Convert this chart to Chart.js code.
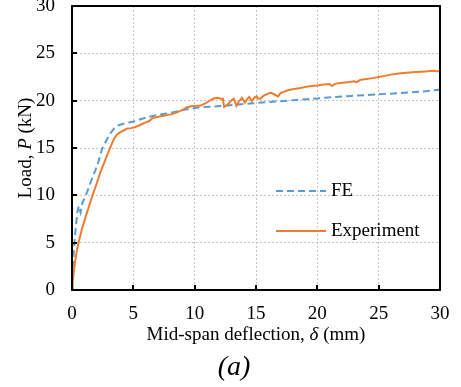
<!DOCTYPE html>
<html>
<head>
<meta charset="utf-8">
<script src="https://cdn.jsdelivr.net/npm/chart.js@4.4.1/dist/chart.umd.min.js"></script>
<style>
  html, body { margin: 0; padding: 0; background: #fff; }
  #wrap { width: 461px; height: 387px; }
</style>
</head>
<body>
<div id="wrap"><canvas id="chart" width="461" height="387"></canvas></div>
<script>
// FE model curve (mid-span deflection in mm, load in kN)
const feDeflection = [0, 0.05, 0.15, 0.3, 0.45, 0.55, 0.7, 0.85, 1.1, 1.5, 1.8, 2.1, 2.45, 2.8, 3.1, 3.45, 3.8, 4.3, 5.0, 6.0, 7.0, 8.0, 9.0, 10.4, 12.3, 14.5, 16.5, 18.6, 20.6, 22.7, 24.7, 26.7, 28.4, 30];
const feLoad = [0, 2.0, 4.2, 6.5, 8.3, 8.9, 8.2, 9.2, 9.9, 11.3, 12.3, 13.3, 14.9, 15.8, 16.5, 17.1, 17.4, 17.6, 17.8, 18.2, 18.5, 18.7, 19.0, 19.3, 19.45, 19.7, 19.9, 20.1, 20.3, 20.5, 20.65, 20.8, 20.95, 21.15];

// Experiment curve
const expDeflection = [0, 0.05, 0.12, 0.25, 0.4, 0.55, 0.8, 1.1, 1.4, 1.7, 2.0, 2.3, 2.7, 3.1, 3.4, 3.65, 3.9, 4.2, 4.5, 4.8, 5.1, 5.5, 6.0, 6.3, 6.6, 6.9, 7.2, 7.5, 7.8, 8.1, 8.5, 8.9, 9.3, 9.7, 10.1, 10.5, 10.9, 11.3, 11.6, 11.9, 12.1, 12.3, 12.4, 12.6, 12.8, 13.1, 13.2, 13.4, 13.6, 13.85, 14.1, 14.3, 14.45, 14.65, 14.85, 15.05, 15.2, 15.35, 15.6, 15.9, 16.2, 16.5, 16.8, 17.0, 17.3, 17.6, 18.0, 18.5, 19.0, 19.5, 20.0, 20.5, 21.0, 21.2, 21.4, 21.7, 22.1, 22.6, 23.0, 23.2, 23.5, 24.0, 24.5, 25.0, 25.5, 26.0, 26.5, 27.0, 27.5, 28.0, 28.5, 29.0, 29.4, 29.7, 30];
const expLoad = [0, 0.8, 1.6, 3.0, 4.2, 5.1, 6.4, 7.7, 8.9, 10.1, 11.2, 12.4, 13.7, 15.0, 15.9, 16.4, 16.65, 16.85, 17.05, 17.1, 17.2, 17.4, 17.7, 17.85, 18.2, 18.25, 18.35, 18.4, 18.5, 18.55, 18.75, 18.95, 19.25, 19.4, 19.45, 19.5, 19.75, 20.05, 20.25, 20.3, 20.2, 20.2, 19.35, 19.5, 19.75, 20.15, 20.2, 19.45, 19.9, 20.3, 19.8, 20.2, 20.4, 19.95, 20.3, 20.45, 20.2, 20.2, 20.5, 20.7, 20.85, 20.65, 20.45, 20.8, 20.95, 21.1, 21.2, 21.3, 21.45, 21.55, 21.6, 21.7, 21.75, 21.55, 21.75, 21.85, 21.9, 21.97, 22.05, 21.95, 22.2, 22.3, 22.38, 22.5, 22.62, 22.75, 22.85, 22.93, 22.98, 23.03, 23.06, 23.1, 23.15, 23.1, 23.12];

const seriesNames = ["FE", "Experiment"];
const axisMin = 0;
const axisMax = 30;
const tickStep = 5;

const serif = "'Liberation Serif', 'Times New Roman', serif";
const blue = "#5B9BD5";
const orange = "#ED7D31";

function toPoints(xs, ys) {
  return xs.map((x, i) => ({ x: x, y: ys[i] }));
}

// Draws several pieces of text in a row, each with its own font
function drawRuns(ctx, runs, x, y) {
  let total = 0;
  runs.forEach((r) => {
    ctx.font = r.font;
    total += ctx.measureText(r.text).width;
  });
  let pos = x - total / 2;
  ctx.textAlign = "left";
  runs.forEach((r) => {
    ctx.font = r.font;
    ctx.fillText(r.text, pos, y);
    pos += ctx.measureText(r.text).width;
  });
}

// Box, inside ticks, titles and the legend
const decorations = {
  id: "decorations",
  afterDatasetsDraw(chart) {
    const ctx = chart.ctx;
    const area = chart.chartArea;
    const xs = chart.scales.x;
    const ys = chart.scales.y;

    ctx.save();
    // inside tick marks
    ctx.strokeStyle = "#000";
    ctx.lineWidth = 2;
    for (let v = axisMin + tickStep; v < axisMax; v += tickStep) {
      const px = Math.round(xs.getPixelForValue(v));
      ctx.beginPath();
      ctx.moveTo(px, area.bottom);
      ctx.lineTo(px, area.bottom - 5);
      ctx.stroke();
      const py = Math.round(ys.getPixelForValue(v));
      ctx.beginPath();
      ctx.moveTo(area.left, py);
      ctx.lineTo(area.left + 5, py);
      ctx.stroke();
    }
    // plot box
    ctx.strokeRect(area.left, area.top, area.right - area.left, area.bottom - area.top);

    // legend
    const legendX1 = 276;
    const legendX2 = 326;
    const rows = [
      { name: seriesNames[0], color: blue, dash: [7, 4], y: 191 },
      { name: seriesNames[1], color: orange, dash: [], y: 231 },
    ];
    rows.forEach((r) => {
      ctx.strokeStyle = r.color;
      ctx.lineWidth = 2;
      ctx.setLineDash(r.dash);
      ctx.beginPath();
      ctx.moveTo(legendX1, r.y);
      ctx.lineTo(legendX2, r.y);
      ctx.stroke();
      ctx.setLineDash([]);
      ctx.fillStyle = "#000";
      ctx.font = "19px " + serif;
      ctx.textAlign = "left";
      ctx.textBaseline = "middle";
      ctx.fillText(r.name, 331, r.y);
    });

    // x axis title
    ctx.fillStyle = "#000";
    ctx.textBaseline = "alphabetic";
    const cx = (area.left + area.right) / 2;
    drawRuns(ctx, [
      { text: "Mid-span deflection, ", font: "19px " + serif },
      { text: "\u03B4", font: "italic 19px " + serif },
      { text: " (mm)", font: "19px " + serif },
    ], cx, 340);

    // y axis title
    ctx.save();
    ctx.translate(31, (area.top + area.bottom) / 2);
    ctx.rotate(-Math.PI / 2);
    drawRuns(ctx, [
      { text: "Load, ", font: "19px " + serif },
      { text: "P", font: "italic 19px " + serif },
      { text: " (kN)", font: "19px " + serif },
    ], 0, 0);
    ctx.restore();

    // panel label
    ctx.font = "italic 28px " + serif;
    ctx.textAlign = "center";
    ctx.fillText("(a)", 234, 375);
    ctx.restore();
  },
};

function createChart() {
  const ctx = document.getElementById("chart").getContext("2d");

  const gridStyle = {
    color: "#c4c4c4",
    lineWidth: 1,
    drawTicks: false,
  };

  return new Chart(ctx, {
    type: "line",
    data: {
      datasets: [
        {
          label: seriesNames[0],
          data: toPoints(feDeflection, feLoad),
          borderColor: blue,
          borderWidth: 2,
          borderDash: [7, 4],
          pointRadius: 0,
          tension: 0,
          fill: false,
          order: 1,
        },
        {
          label: seriesNames[1],
          data: toPoints(expDeflection, expLoad),
          borderColor: orange,
          borderWidth: 2,
          pointRadius: 0,
          tension: 0,
          fill: false,
          order: 0,
        },
      ],
    },
    options: {
      responsive: false,
      animation: false,
      layout: { padding: { left: 0, right: 21, top: 6, bottom: 0 } },
      plugins: {
        legend: { display: false },
        tooltip: { enabled: false },
      },
      scales: {
        x: {
          type: "linear",
          min: axisMin,
          max: axisMax,
          ticks: {
            stepSize: tickStep,
            color: "#000",
            padding: 13,
            maxRotation: 0,
            font: { family: serif, size: 19 },
          },
          grid: gridStyle,
          border: { display: false, dash: [2, 2] },
          afterFit(scale) {
            scale.height = 97;
            scale.paddingLeft = 0;
            scale.paddingRight = 0;
          },
        },
        y: {
          type: "linear",
          min: axisMin,
          max: axisMax,
          ticks: {
            stepSize: tickStep,
            color: "#000",
            padding: 17,
            font: { family: serif, size: 19 },
          },
          grid: gridStyle,
          border: { display: false, dash: [2, 2] },
          afterFit(scale) {
            scale.width = 72;
            scale.paddingTop = 0;
            scale.paddingBottom = 0;
          },
        },
      },
    },
    plugins: [decorations],
  });
}

const chart = createChart();
</script>
</body>
</html>
